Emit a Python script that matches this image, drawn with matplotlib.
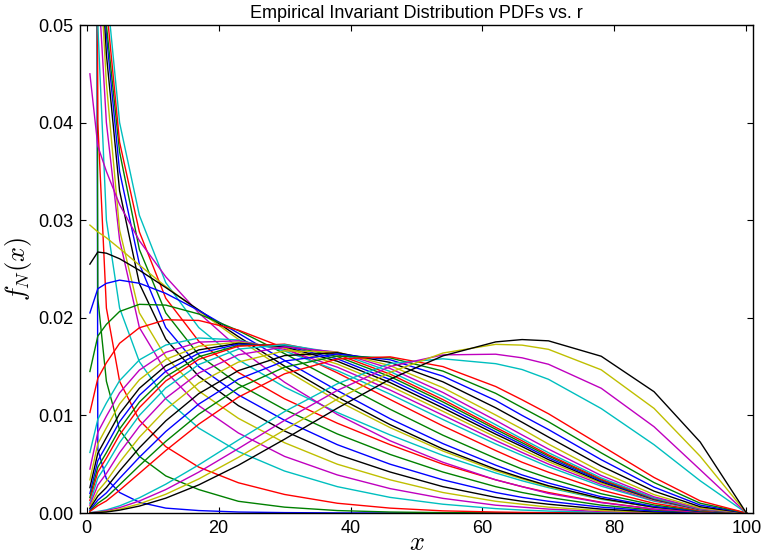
import matplotlib
matplotlib.use('Agg')
import matplotlib.pyplot as plt

# x positions (percent) where each empirical pdf is sampled
x_pos = [0.5, 1.7, 3, 5, 8, 12, 17, 23, 30, 38, 46, 54, 62, 66, 70, 78, 86, 93, 100]

# pdfs, one list per value of r (plotted in this order)
pdf_00 = [0.5, 0.0065, 0.0035, 0.0021, 0.0011, 0.0005, 0.00025, 0.0001, 0.00004, 0.00001, 0, 0, 0, 0, 0, 0, 0, 0, 0]
pdf_01 = [0.4, 0.022, 0.0135, 0.0085, 0.0058, 0.0038, 0.0024, 0.0012, 0.0006, 0.00025, 0.0001, 0.00004, 0.00001, 0, 0, 0, 0, 0, 0]
pdf_02 = [0.3, 0.040, 0.021, 0.0135, 0.0095, 0.0068, 0.0047, 0.0031, 0.0019, 0.0010, 0.0005, 0.00022, 0.0001, 0.00006, 0.00003, 0.00001, 0, 0, 0]
pdf_03 = [0.25, 0.050, 0.030, 0.021, 0.0155, 0.0117, 0.0087, 0.0063, 0.0043, 0.0027, 0.0016, 0.0009, 0.00045, 0.0003, 0.0002, 0.00008, 0.00002, 0, 0]
pdf_04 = [0.2, 0.055, 0.040, 0.028, 0.019, 0.0145, 0.011, 0.0082, 0.0058, 0.0039, 0.0025, 0.0015, 0.0008, 0.0006, 0.0004, 0.00015, 0.00004, 0, 0]
pdf_05 = [0.17, 0.060, 0.044, 0.029, 0.0205, 0.016, 0.0125, 0.0097, 0.0072, 0.005, 0.0034, 0.0021, 0.0012, 0.0009, 0.0006, 0.00025, 0.00007, 0.00001, 0]
pdf_06 = [0.15, 0.063, 0.047, 0.033, 0.0235, 0.0178, 0.014, 0.011, 0.0084, 0.006, 0.0042, 0.0027, 0.0016, 0.0012, 0.0009, 0.0004, 0.00012, 0.00002, 0]
pdf_07 = [0.13, 0.065, 0.049, 0.035, 0.0255, 0.019, 0.015, 0.0121, 0.0095, 0.007, 0.005, 0.0034, 0.0021, 0.0016, 0.0012, 0.0006, 0.0002, 0.00004, 0]
pdf_08 = [0.11, 0.066, 0.050, 0.037, 0.027, 0.0205, 0.0162, 0.0132, 0.0106, 0.0081, 0.006, 0.0042, 0.0027, 0.0021, 0.0016, 0.0008, 0.0003, 0.00006, 0]
pdf_09 = [0.095, 0.066, 0.052, 0.038, 0.0288, 0.022, 0.0176, 0.0144, 0.0117, 0.0092, 0.007, 0.005, 0.0034, 0.0027, 0.0021, 0.0011, 0.0004, 0.0001, 0]
pdf_10 = [0.08, 0.066, 0.054, 0.040, 0.0305, 0.0236, 0.019, 0.0157, 0.0129, 0.0103, 0.008, 0.0059, 0.0041, 0.0033, 0.0026, 0.0014, 0.0006, 0.00015, 0]
pdf_11 = [0.045, 0.0376, 0.0350, 0.0316, 0.0279, 0.0242, 0.0205, 0.0169, 0.0134, 0.0101, 0.0074, 0.0052, 0.0034, 0.0027, 0.0020, 0.00106, 0.0004, 0.0001, 0]
pdf_12 = [0.0295, 0.0288, 0.0282, 0.0271, 0.0254, 0.0232, 0.0207, 0.0178, 0.0147, 0.0115, 0.00875, 0.00635, 0.00433, 0.0035, 0.0027, 0.00145, 0.00059, 0.00015, 0]
pdf_13 = [0.0255, 0.02674, 0.02662, 0.02605, 0.02487, 0.0231, 0.0208, 0.01807, 0.01505, 0.01188, 0.00905, 0.00656, 0.00448, 0.0036, 0.00279, 0.00149, 0.0006, 0.00015, 0]
pdf_14 = [0.0205, 0.02298, 0.02353, 0.02386, 0.02354, 0.0225, 0.02075, 0.01842, 0.01563, 0.01255, 0.00966, 0.00711, 0.0049, 0.0039, 0.00307, 0.00166, 0.00067, 0.00017, 0]
pdf_15 = [0.0145, 0.01813, 0.01933, 0.02065, 0.02138, 0.0213, 0.02039, 0.01869, 0.01633, 0.01347, 0.01063, 0.00797, 0.0056, 0.0045, 0.00358, 0.00197, 0.00082, 0.00021, 0]
pdf_16 = [0.0103, 0.0138, 0.01539, 0.01739, 0.01898, 0.0198, 0.01973, 0.01874, 0.01691, 0.01436, 0.01163, 0.00892, 0.0064, 0.0052, 0.00418, 0.00235, 0.00099, 0.00026, 0]
pdf_17 = [0.0062, 0.0096, 0.01127, 0.01356, 0.01569, 0.01721, 0.01793, 0.01773, 0.0166, 0.01459, 0.01218, 0.00958, 0.00707, 0.0059, 0.00474, 0.00275, 0.00121, 0.00033, 0]
pdf_18 = [0.0045, 0.00827, 0.00992, 0.01231, 0.01464, 0.01646, 0.01751, 0.01764, 0.01677, 0.01494, 0.0126, 0.01002, 0.00743, 0.0062, 0.00501, 0.00292, 0.00129, 0.00035, 0]
pdf_19 = [0.0034, 0.0071, 0.00873, 0.01117, 0.01365, 0.01574, 0.01709, 0.01751, 0.01691, 0.01526, 0.01301, 0.01042, 0.00778, 0.0065, 0.00526, 0.00307, 0.00135, 0.00037, 0]
pdf_20 = [0.0026, 0.00613, 0.00773, 0.01018, 0.01278, 0.01509, 0.01671, 0.01739, 0.01703, 0.01555, 0.01336, 0.01077, 0.00808, 0.0068, 0.00547, 0.0032, 0.0014, 0.00037, 0]
pdf_21 = [0.0020, 0.00536, 0.0069, 0.00935, 0.01206, 0.01452, 0.01637, 0.0173, 0.01714, 0.01579, 0.01367, 0.01108, 0.00833, 0.0070, 0.00566, 0.00329, 0.00143, 0.00038, 0]
pdf_22 = [0.0016, 0.0047, 0.00618, 0.00861, 0.01136, 0.01397, 0.01601, 0.01717, 0.01722, 0.01603, 0.01398, 0.01138, 0.00858, 0.0072, 0.00584, 0.0034, 0.00147, 0.00039, 0]
pdf_23 = [0.0013, 0.00419, 0.00562, 0.00801, 0.0108, 0.01353, 0.01574, 0.01709, 0.0173, 0.01624, 0.01423, 0.01162, 0.00877, 0.0074, 0.00596, 0.00346, 0.00149, 0.00039, 0]
pdf_24 = [0.0010, 0.00359, 0.00493, 0.00721, 0.01, 0.01282, 0.01521, 0.01679, 0.01725, 0.0164, 0.0145, 0.01193, 0.00905, 0.0076, 0.00618, 0.00359, 0.00154, 0.0004, 0]
pdf_25 = [0.0008, 0.00286, 0.00405, 0.00618, 0.00888, 0.01176, 0.01434, 0.01621, 0.01702, 0.01649, 0.01481, 0.01235, 0.00949, 0.0080, 0.00655, 0.00384, 0.00166, 0.00044, 0]
pdf_26 = [0.0006, 0.00223, 0.00327, 0.00519, 0.00776, 0.0106, 0.01332, 0.01546, 0.01662, 0.01648, 0.0151, 0.01284, 0.01004, 0.0086, 0.00706, 0.00422, 0.00188, 0.00051, 0]
pdf_27 = [0.00045, 0.00173, 0.00261, 0.00432, 0.00668, 0.00944, 0.01223, 0.01459, 0.01613, 0.01642, 0.01543, 0.01344, 0.01078, 0.0093, 0.00778, 0.00481, 0.00224, 0.00064, 0]
pdf_28 = [0.0003, 0.00132, 0.00206, 0.00355, 0.00571, 0.00835, 0.01116, 0.01371, 0.01557, 0.01629, 0.0157, 0.01402, 0.01153, 0.0100, 0.00855, 0.00546, 0.00265, 0.00081, 0]
pdf_29 = [0.0002, 0.001, 0.00161, 0.00289, 0.00485, 0.00734, 0.01012, 0.0128, 0.01494, 0.01608, 0.01589, 0.01454, 0.01226, 0.0108, 0.00935, 0.00616, 0.00312, 0.001, 0]
pdf_30 = [0.00015, 0.00075, 0.00124, 0.00233, 0.00407, 0.0064, 0.0091, 0.01187, 0.01426, 0.01578, 0.016, 0.015, 0.01296, 0.0116, 0.01017, 0.00691, 0.00364, 0.00124, 0]
pdf_31 = [0.00003, 0.00016, 0.00032, 0.00073, 0.00156, 0.00295, 0.00493, 0.00748, 0.01039, 0.01324, 0.01532, 0.0158, 0.0153, 0.0147, 0.0137, 0.0107, 0.0070, 0.0033, 0]
pdf_32 = [0.00002, 0.00011, 0.00023, 0.00055, 0.00123, 0.0024, 0.00419, 0.0066, 0.00949, 0.01256, 0.01501, 0.0162, 0.01627, 0.0159, 0.01524, 0.01278, 0.00884, 0.00443, 0]
pdf_33 = [0.00001, 0.00007, 0.00015, 0.0004, 0.00093, 0.00192, 0.00349, 0.0057, 0.00851, 0.01167, 0.01441, 0.01639, 0.01728, 0.0172, 0.01677, 0.01467, 0.01072, 0.00581, 0]
pdf_34 = [0.00001, 0.00005, 0.0001, 0.00029, 0.00071, 0.00152, 0.00288, 0.00489, 0.00756, 0.01074, 0.01371, 0.0161, 0.01753, 0.01777, 0.01764, 0.01606, 0.01243, 0.00727, 0]

pdfs = [pdf_00, pdf_01, pdf_02, pdf_03, pdf_04, pdf_05, pdf_06, pdf_07, pdf_08, pdf_09,
        pdf_10, pdf_11, pdf_12, pdf_13, pdf_14, pdf_15, pdf_16, pdf_17, pdf_18, pdf_19,
        pdf_20, pdf_21, pdf_22, pdf_23, pdf_24, pdf_25, pdf_26, pdf_27, pdf_28, pdf_29,
        pdf_30, pdf_31, pdf_32, pdf_33, pdf_34]

# old matplotlib default colour cycle
cycle = ['b', 'g', 'r', 'c', 'm', 'y', 'k']
old_colors = {'b': (0, 0, 1), 'g': (0, 0.5, 0), 'r': (1, 0, 0), 'c': (0, 0.75, 0.75),
              'm': (0.75, 0, 0.75), 'y': (0.75, 0.75, 0), 'k': (0, 0, 0)}

plt.rcParams['font.family'] = ['Liberation Sans', 'DejaVu Sans']
plt.rcParams['mathtext.fontset'] = 'cm'

fig = plt.figure(figsize=(7.64, 5.54), dpi=100)
ax = fig.add_axes([80/764, 1-513/554, 673/764, 488/554])

for i in range(len(pdfs)):
    ax.plot(x_pos, pdfs[i], color=old_colors[cycle[i % 7]], lw=1.0)

ax.set_xlim(-1, 101)
ax.set_ylim(0, 0.05)
ax.set_xticks([0, 20, 40, 60, 80, 100])
ax.set_yticks([0.0, 0.01, 0.02, 0.03, 0.04, 0.05])
ax.set_yticklabels(['0.00', '0.01', '0.02', '0.03', '0.04', '0.05'])
ax.tick_params(direction='in', top=True, right=True, length=4, width=0.8,
               labelsize=13, pad=5)
for sp in ax.spines.values():
    sp.set_linewidth(1.0)

ax.set_title('Empirical Invariant Distribution PDFs vs. r', fontsize=13, pad=5)
ax.set_xlabel('$x$', fontsize=19)
ax.xaxis.set_label_coords(0.5, -0.036)
ax.set_ylabel('$f_N(x)$', fontsize=19, labelpad=3)

fig.savefig('out.png', dpi=100)
